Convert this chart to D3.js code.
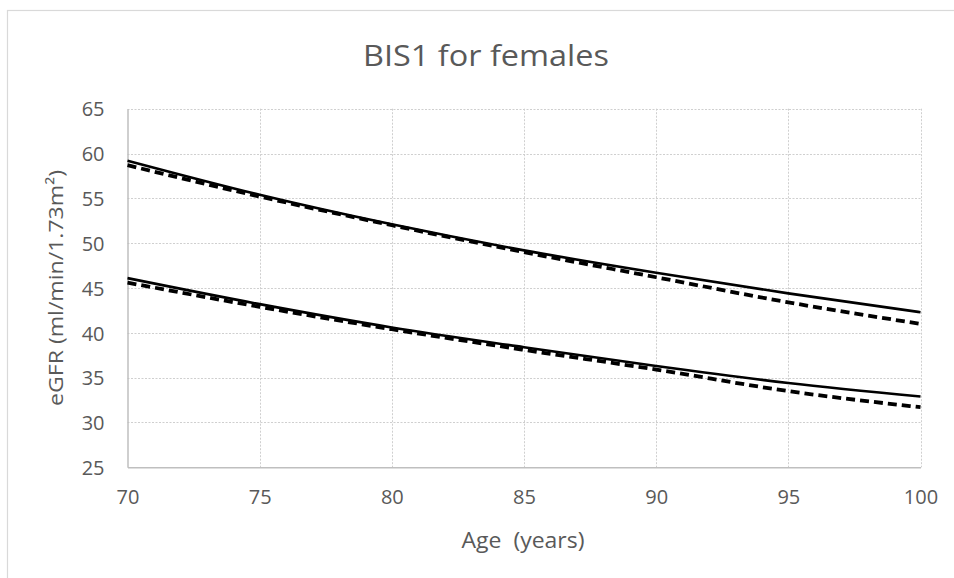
<!DOCTYPE html>
<html>
<head>
<meta charset="utf-8">
<script src="https://cdn.jsdelivr.net/npm/d3@7"></script>
<style>
html,body{margin:0;padding:0;background:#fff;}
svg{display:block;}
text{font-family:"Open Sans","Noto Sans",sans-serif;fill:#595959;}
</style>
</head>
<body>
<svg id="chart" width="954" height="578"></svg>
<script>
// Data
const ages = [70, 75, 80, 85, 90, 95, 100];
const upperSolid  = [59.2, 55.4, 52.1, 49.2, 46.7, 44.4, 42.3];
const upperDashed = [58.7, 55.2, 52.0, 49.0, 46.2, 43.4, 41.0];
const lowerSolid  = [46.1, 43.2, 40.6, 38.4, 36.3, 34.4, 32.9];
const lowerDashed = [45.6, 42.9, 40.4, 38.1, 35.9, 33.5, 31.7];
const xTicks = [70, 75, 80, 85, 90, 95, 100];
const yTicks = [25, 30, 35, 40, 45, 50, 55, 60, 65];
const titleText = "BIS1 for females";
const xLabel = "Age\u00a0 (years)";
const yLabel = "eGFR (ml/min/1.73m²)";

const series = [
  {values: upperSolid, dashed: false},
  {values: lowerSolid, dashed: false},
  {values: upperDashed, dashed: true},
  {values: lowerDashed, dashed: true}
];

const svg = d3.select("#chart");
const m = {left: 127.5, right: 920.5, top: 108.7, bottom: 467.3};

// outer chart border
svg.append("rect").attr("x", 7.5).attr("y", 10.5).attr("width", 960).attr("height", 600)
  .attr("fill", "none").attr("stroke", "#d9d9d9").attr("stroke-width", 1.2);

const x = d3.scaleLinear().domain([70, 100]).range([m.left, m.right]);
const y = d3.scaleLinear().domain([25, 65]).range([m.bottom, m.top]);

// gridlines
const grid = svg.append("g");
grid.selectAll(".hg").data(yTicks.filter(d => d !== 25)).join("line")
  .attr("x1", m.left).attr("x2", m.right)
  .attr("y1", d => Math.round(y(d)) + 0.5).attr("y2", d => Math.round(y(d)) + 0.5)
  .attr("stroke", "#cfcfcf").attr("stroke-width", 1).attr("stroke-dasharray", "2,1.5");
grid.selectAll(".vg").data(xTicks.filter(d => d !== 70)).join("line")
  .attr("y1", m.top).attr("y2", m.bottom)
  .attr("x1", d => Math.round(x(d)) + 0.5).attr("x2", d => Math.round(x(d)) + 0.5)
  .attr("stroke", "#cfcfcf").attr("stroke-width", 1).attr("stroke-dasharray", "2,1.5");

// axes
const xAxis = svg.append("g").attr("transform", `translate(0,${m.bottom})`)
  .call(d3.axisBottom(x).tickValues(xTicks).tickSize(0).tickPadding(22).tickFormat(d3.format("d")));
const yAxis = svg.append("g").attr("transform", `translate(${m.left},0)`)
  .call(d3.axisLeft(y).tickValues(yTicks).tickSize(0).tickPadding(23).tickFormat(d3.format("d")));
[xAxis, yAxis].forEach(a => {
  a.select(".domain").attr("stroke", "#bfbfbf").attr("stroke-width", 1.5);
  a.selectAll("text").attr("fill", "#595959").attr("font-size", 20)
    .attr("font-family", "'Open Sans','Noto Sans',sans-serif");
});
xAxis.selectAll(".tick text").attr("dy", "0.35em").attr("y", 30);
yAxis.selectAll(".tick text").attr("dy", "0.36em");

// lines
const line = d3.line().x((d, i) => x(ages[i])).y(d => y(d)).curve(d3.curveMonotoneX);
svg.append("g").selectAll("path").data(series).join("path")
  .attr("d", d => line(d.values))
  .attr("fill", "none").attr("stroke", "#000")
  .attr("stroke-width", d => d.dashed ? 3.8 : 2.6)
  .attr("stroke-dasharray", d => d.dashed ? "9,5" : null)
  .attr("stroke-linecap", "butt");

// title
svg.append("text").attr("x", 486).attr("y", 66).attr("text-anchor", "middle")
  .attr("font-size", 30).attr("textLength", 246).attr("lengthAdjust", "spacingAndGlyphs")
  .text(titleText);

// x label
svg.append("text").attr("x", 523).attr("y", 548).attr("text-anchor", "middle")
  .attr("font-size", 21).attr("textLength", 123).attr("lengthAdjust", "spacingAndGlyphs")
  .text(xLabel);

// y label
svg.append("text").attr("transform", "translate(63,288) rotate(-90)").attr("text-anchor", "middle")
  .attr("font-size", 20).attr("textLength", 236).attr("lengthAdjust", "spacingAndGlyphs")
  .text(yLabel);
</script>
</body>
</html>
